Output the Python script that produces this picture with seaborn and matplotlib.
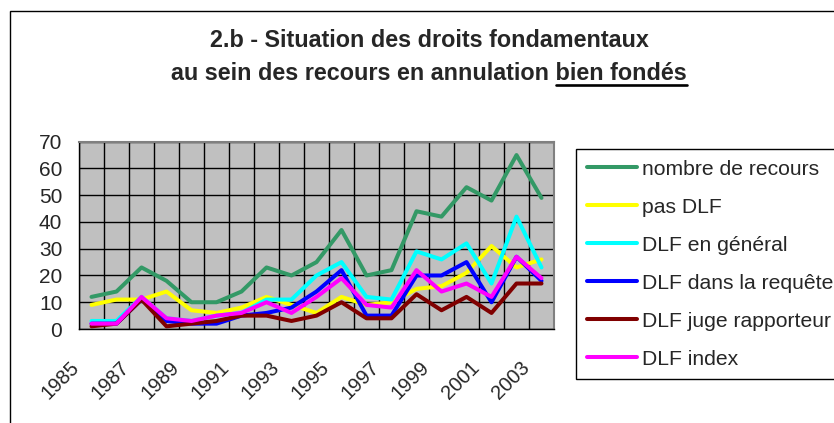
import matplotlib
matplotlib.use("Agg")
import matplotlib.pyplot as plt
import matplotlib.transforms as mtransforms
from matplotlib.patches import Rectangle
from matplotlib.lines import Line2D
import seaborn as sns
import pandas as pd
import numpy as np

years = list(range(1985, 2004))
tick_labels = [str(y) for y in range(1985, 2004, 2)]

series_names = ["nombre de recours", "pas DLF", "DLF en général",
                "DLF dans la requête", "DLF juge rapporteur", "DLF index"]
nombre_de_recours = [12, 14, 23, 18, 10, 10, 14, 23, 20, 25, 37, 20, 22, 44, 42, 53, 48, 65, 49]
pas_dlf = [9, 11, 11, 14, 7, 6, 8, 12, 9, 6, 12, 9, 10, 15, 16, 21, 31, 23, 26]
dlf_general = [3, 3, 12, 4, 3, 5, 6, 11, 11, 20, 25, 12, 11, 29, 26, 32, 17, 42, 23]
dlf_requete = [2, 2, 11, 3, 2, 2, 5, 6, 8, 14, 22, 5, 5, 20, 20, 25, 10, 27, 18]
dlf_juge = [1, 2, 11, 1, 2, 3, 5, 5, 3, 5, 10, 4, 4, 13, 7, 12, 6, 17, 17]
dlf_index = [2, 2, 12, 4, 3, 5, 6, 10, 6, 12, 19, 9, 8, 22, 14, 17, 12, 27, 19]
colors = ["#339966", "#FFFF00", "#00FFFF", "#0000FF", "#800000", "#FF00FF"]

values = [nombre_de_recours, pas_dlf, dlf_general, dlf_requete, dlf_juge, dlf_index]
rows = []
for name, vals in zip(series_names, values):
    for i, (yr, v) in enumerate(zip(years, vals)):
        rows.append({"idx": i, "year": yr, "series": name, "value": v})
df = pd.DataFrame(rows)

sns.set_style("white")
plt.rcParams["font.family"] = ["Liberation Sans", "DejaVu Sans"]

W, H = 834, 423
fig = plt.figure(figsize=(W / 100, H / 100), dpi=100)
fig.patch.set_facecolor("white")

# outer chart border
fig.add_artist(Rectangle((10 / W, -0.1), 1.2, 1 - 10.7 / H + 0.1, transform=fig.transFigure,
                         fill=False, edgecolor="black", linewidth=1.0))

ax = fig.add_axes([79 / W, 1 - 329 / H, 475 / W, (329 - 141.7) / H])
ax.set_facecolor("#C0C0C0")

sns.lineplot(data=df, x="idx", y="value", hue="series", hue_order=series_names,
             palette=colors, linewidth=2.9, ax=ax, sort=False, legend=False)

ax.set_xlim(-0.5, len(years) - 0.5)
ax.set_ylim(0, 70)
ax.set_yticks(range(0, 71, 10))
ax.set_xticks(range(0, len(years), 2))
ax.set_xticklabels(tick_labels, rotation=45, ha="right", va="center", rotation_mode="anchor")
ax.set_xticks(np.arange(-0.5, len(years), 1), minor=True)
ax.tick_params(axis="x", which="major", length=0, pad=25.5, labelsize=14.5)
ax.tick_params(axis="x", which="minor", length=6, width=1, color="black", direction="out")
ax.tick_params(axis="y", which="major", length=6, width=1, color="black", direction="out",
               pad=6, labelsize=15)
offset = mtransforms.ScaledTranslation(-15 / 100, 0, fig.dpi_scale_trans)
for lab in ax.get_xticklabels():
    lab.set_transform(lab.get_transform() + offset)

ax.grid(True, which="major", axis="y", color="black", linewidth=1)
ax.grid(True, which="minor", axis="x", color="black", linewidth=1)
ax.set_axisbelow(True)
ax.set_xlabel("")
ax.set_ylabel("")
for s in ["left", "bottom"]:
    ax.spines[s].set_color("black")
    ax.spines[s].set_linewidth(1)
for s in ["top", "right"]:
    ax.spines[s].set_color("#808080")
    ax.spines[s].set_linewidth(1.5)

handles = [Line2D([0], [0], color=c, linewidth=2.9) for c in colors]
leg = ax.legend(handles, series_names, loc="upper left", mode="expand",
                bbox_to_anchor=(576 / W, 1 - 149 / H, 0.4, 0), bbox_transform=fig.transFigure,
                frameon=True, fancybox=False, shadow=False, framealpha=1,
                edgecolor="black", fontsize=15.2, handlelength=2.4, handletextpad=0.25,
                labelspacing=0.9, borderpad=0.5, borderaxespad=0)
leg.get_frame().set_linewidth(1)

# title
title_kw = dict(ha="center", va="baseline", fontsize=16.8, fontweight="bold")
fig.text(429 / W, 1 - 46.7 / H, "2.b - Situation des droits fondamentaux", **title_kw)
t2 = fig.text(429 / W, 1 - 80 / H, "au sein des recours en annulation bien fondés", **title_kw)
fig.canvas.draw()
r = fig.canvas.get_renderer()
bb = t2.get_window_extent(r)
tmp = fig.text(0, 0, "bien fondés", fontsize=16.8, fontweight="bold")
wb = tmp.get_window_extent(r).width
tmp.remove()
uy = H - 85
fig.add_artist(Line2D([(bb.x1 - wb) / W, bb.x1 / W], [uy / H, uy / H],
                      transform=fig.transFigure, color="black", linewidth=1.9))

fig.savefig("out.png", dpi=100)
